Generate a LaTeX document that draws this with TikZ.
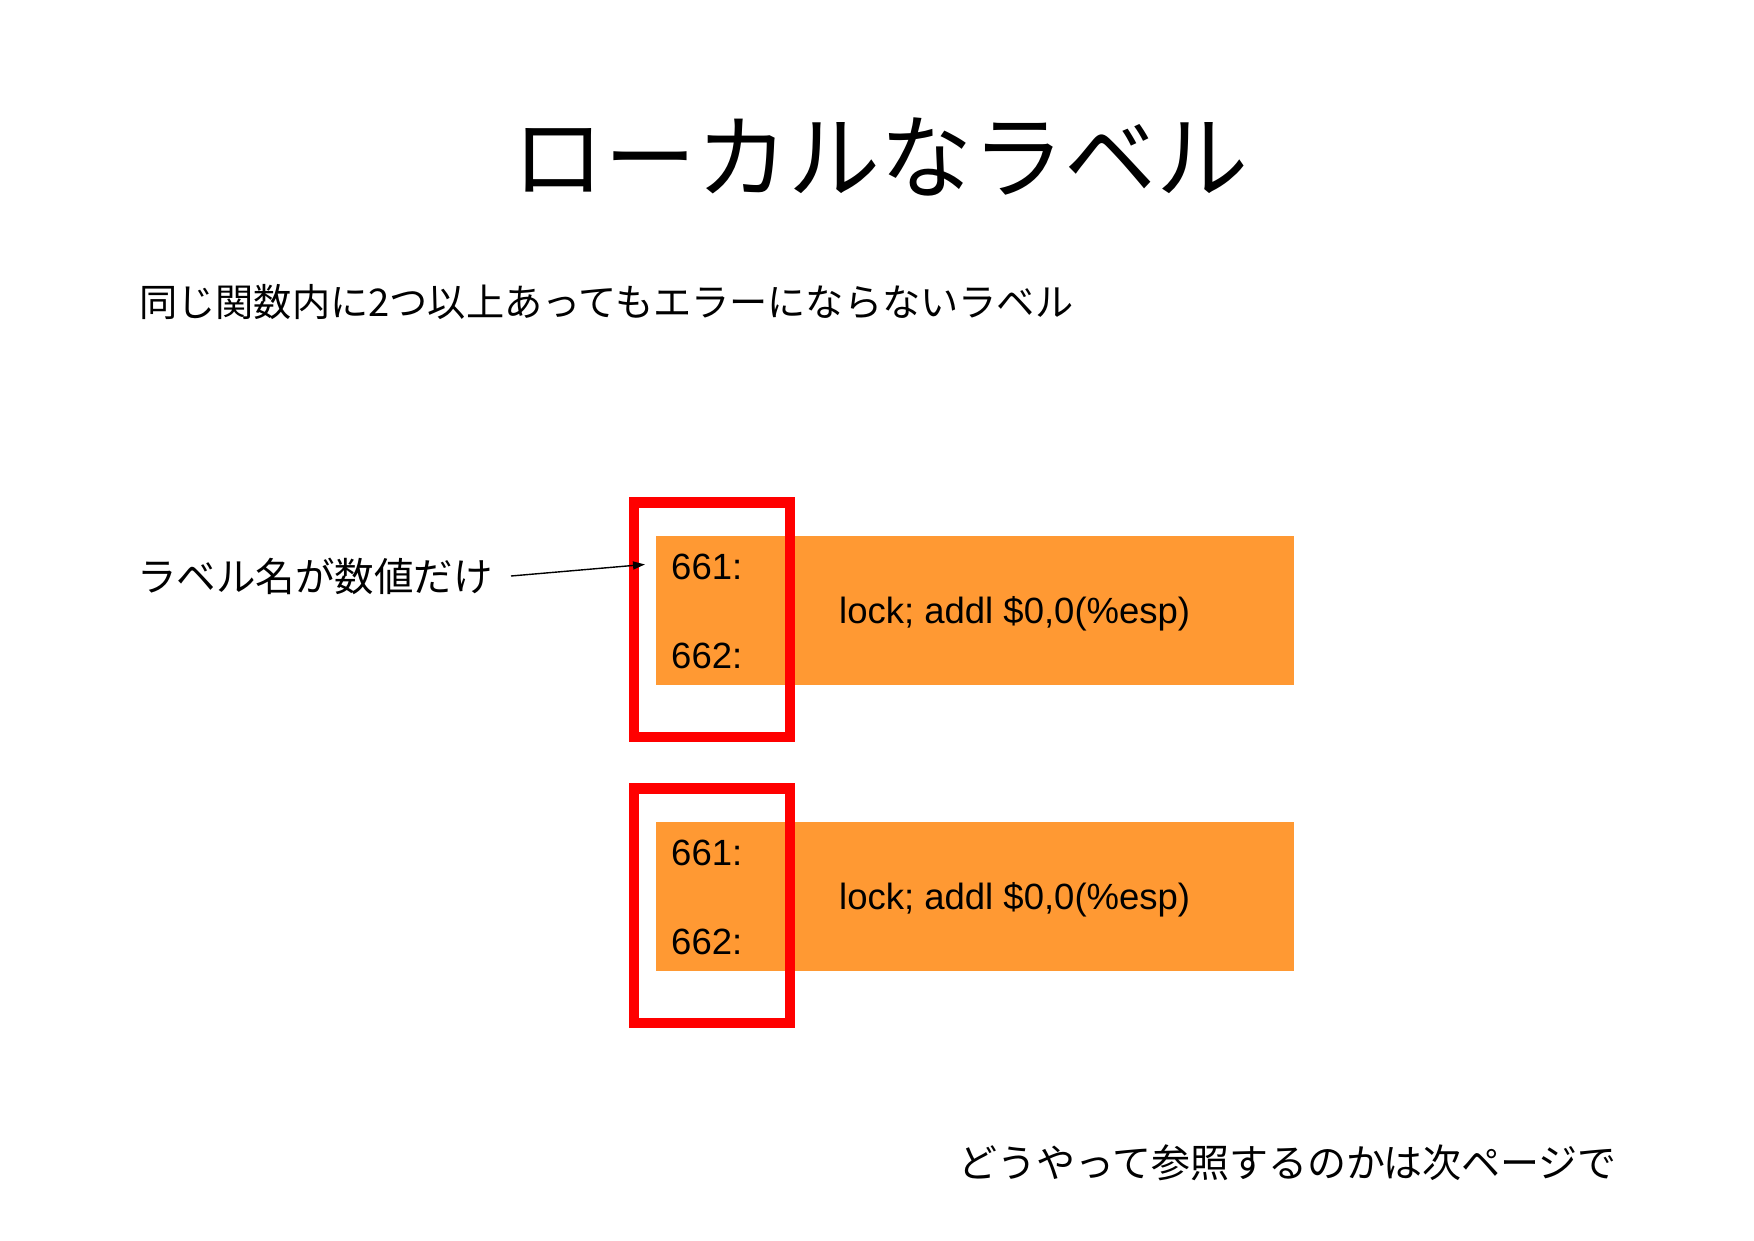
\documentclass[tikz,border=0pt]{standalone}
\usepackage{fontspec}
\setmainfont{Liberation Sans}
\newfontfamily\cjk{Noto Sans CJK JP}
\usetikzlibrary{arrows.meta}
\definecolor{boxorange}{RGB}{255,153,51}
\definecolor{boxred}{RGB}{255,0,0}
\begin{document}
\begin{tikzpicture}[x=1pt,y=-1pt,
  orangebox/.style={fill=boxorange,draw=none},
  redframe/.style={draw=boxred,line width=10.5pt},
  codetext/.style={inner sep=0pt,anchor=base west,font=\fontsize{36.5}{40}\selectfont},
  jptext/.style={inner sep=0pt,anchor=west},
  arr/.style={line width=1.4pt,-{Triangle[length=12pt,width=8pt]}}]
\useasboundingbox[fill=white] (0,0) rectangle (1754,1240);

\node[inner sep=0pt,font=\cjk\fontsize{92}{100}\selectfont] (title) at (880,157) {ローカルなラベル};
\node[jptext,font=\cjk\fontsize{38.2}{42}\selectfont] (sub) at (139,302) {同じ関数内に2つ以上あってもエラーにならないラベル};

% block 1
\fill[orangebox] (656,536) rectangle (1294,684.5);
\draw[redframe] (634,502.5) rectangle (790,737);
\node[codetext] (a661) at (671,579) {661:};
\node[codetext] (a662) at (671,668) {662:};
\node[codetext] (acode) at (839,623) {lock; addl \$0,0(\%esp)};

% block 2
\fill[orangebox] (656,822) rectangle (1294,970.5);
\draw[redframe] (634,788.5) rectangle (790,1023);
\node[codetext] (b661) at (671,865) {661:};
\node[codetext] (b662) at (671,954) {662:};
\node[codetext] (bcode) at (839,909) {lock; addl \$0,0(\%esp)};

\node[jptext,font=\cjk\fontsize{39.5}{44}\selectfont] (lbl) at (137,576) {ラベル名が数値だけ};
\coordinate (arrstart) at (511,576);
\draw[arr] (arrstart) -- ([xshift=-26pt,yshift=2pt]a661.west);

\node[jptext,font=\cjk\fontsize{39}{44}\selectfont] (bottom) at (958,1163) {どうやって参照するのかは次ページで};
\end{tikzpicture}
\end{document}
